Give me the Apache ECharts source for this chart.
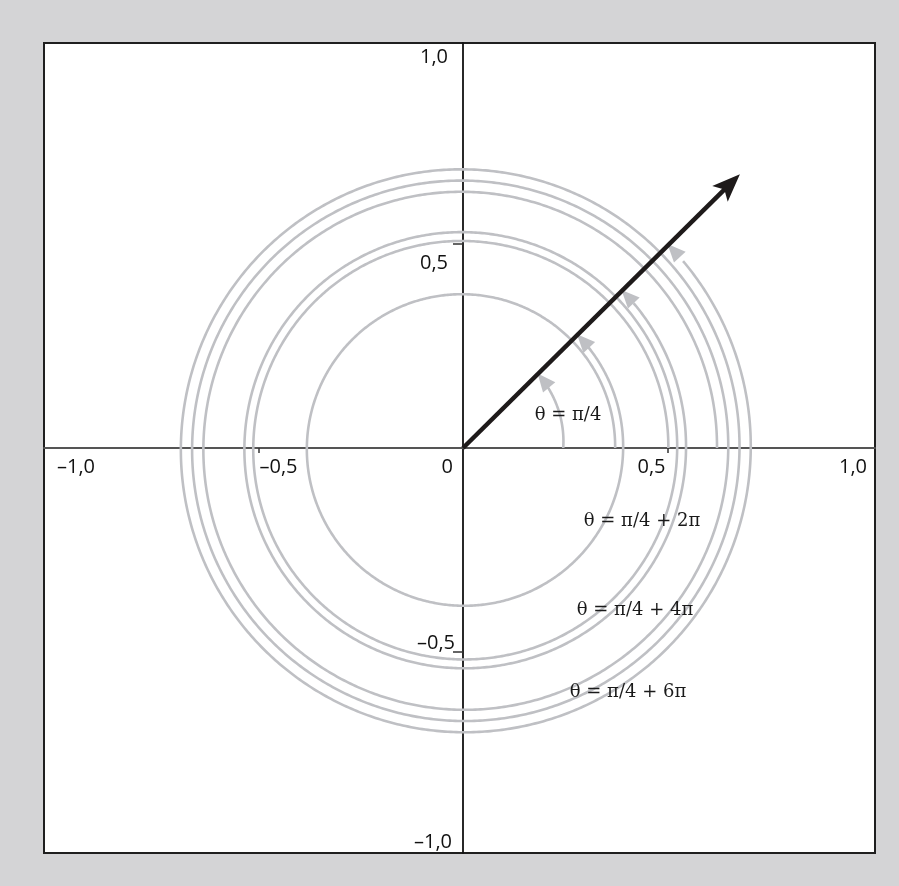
<!DOCTYPE html>
<html>
<head>
<meta charset="utf-8">
<script src="https://cdn.jsdelivr.net/npm/echarts@6/dist/echarts.min.js"></script>
<style>
  html, body { margin: 0; padding: 0; background: #d4d4d6; }
  #chart { width: 899px; height: 886px; }
</style>
</head>
<body>
<div id="chart"></div>
<script>
// tick labels
const xTickValues = [-1, -0.5, 0, 0.5, 1];
const xTickLabels = ['–1,0', '–0,5', '0', '0,5', '1,0'];
const yTickValues = [1, 0.5, -0.5, -1];
const yTickLabels = ['1,0', '0,5', '–0,5', '–1,0'];

// rotation spirals: start radius, end radius, full turns before pi/4
const spiralStartR = [0.245, 0.372, 0.502, 0.621];
const spiralEndR = [0.258, 0.394, 0.548, 0.707];
const spiralTurns = [0, 1, 2, 3];
const spiralNames = ['θ = π/4', 'θ = π/4 + 2π', 'θ = π/4 + 4π', 'θ = π/4 + 6π'];

// the position vector
const vectorEnd = [0.677, 0.671];

const xLabelPlace = [
  { align: 'left', offset: [3, 19] },
  { align: 'left', offset: [1, 19] },
  { align: 'right', offset: [-10, 19] },
  { align: 'right', offset: [-2, 19] },
  { align: 'right', offset: [-5, 19] }
];
const yLabelPlace = [
  { align: 'right', offset: [-15, 17] },
  { align: 'right', offset: [-15, 19] },
  { align: 'right', offset: [-8, -9] },
  { align: 'right', offset: [-11, -14] }
];

function arrowHead(tip, prev, L, W, notch) {
  const dx = tip[0] - prev[0], dy = tip[1] - prev[1];
  const len = Math.hypot(dx, dy) || 1;
  const ux = dx / len, uy = dy / len;
  const bx = tip[0] - ux * L, by = tip[1] - uy * L;
  const pts = [tip, [bx - uy * W, by + ux * W]];
  if (notch) pts.push([tip[0] - ux * L * notch, tip[1] - uy * L * notch]);
  pts.push([bx + uy * W, by - ux * W]);
  return pts;
}

function renderSpiral(params, api) {
  const i = api.value(0);
  const r0 = spiralStartR[i], r1 = spiralEndR[i];
  const end = Math.PI / 4 + 2 * Math.PI * spiralTurns[i];
  const steps = Math.ceil(end / 0.01);
  const pts = [];
  for (let s = 0; s <= steps; s++) {
    const a = end * s / steps;
    const r = r0 + (r1 - r0) * a / end;
    pts.push(api.coord([r * Math.cos(a), r * Math.sin(a)]));
  }
  const tip = pts[pts.length - 1];
  const head = arrowHead(tip, pts[pts.length - 6], 18, 8, 0);
  return {
    type: 'group',
    children: [
      { type: 'polyline', shape: { points: pts.slice(0, pts.length - 8) },
        style: { stroke: '#bfc0c4', lineWidth: 2.6, fill: null } },
      { type: 'polygon', shape: { points: head }, style: { fill: '#bfc0c4' } }
    ]
  };
}

function renderVector(params, api) {
  const p0 = api.coord([0, 0]);
  const p1 = api.coord(vectorEnd);
  const head = arrowHead(p1, p0, 28, 11, 0.78);
  const dx = p1[0] - p0[0], dy = p1[1] - p0[1], len = Math.hypot(dx, dy);
  const stop = [p1[0] - dx / len * 18, p1[1] - dy / len * 18];
  return {
    type: 'group',
    children: [
      { type: 'line', shape: { x1: p0[0], y1: p0[1], x2: stop[0], y2: stop[1] },
        style: { stroke: '#1e1a1a', lineWidth: 4.5 } },
      { type: 'polygon', shape: { points: head }, style: { fill: '#1e1a1a' } }
    ]
  };
}

const tickLabelData = xTickValues.map((v, i) => [v, 0, i, 0])
  .concat(yTickValues.map((v, i) => [0, v, i, 1]));

function renderTickLabel(params, api) {
  const p = api.coord([api.value(0), api.value(1)]);
  const i = api.value(2), isY = api.value(3);
  const place = isY ? yLabelPlace[i] : xLabelPlace[i];
  return {
    type: 'text',
    x: p[0] + place.offset[0], y: p[1] + place.offset[1],
    style: {
      text: isY ? yTickLabels[i] : xTickLabels[i],
      font: '20px "Open Sans"', fill: '#111111',
      align: place.align, verticalAlign: 'middle'
    }
  };
}

const annotPos = [[568, 415], [642, 521], [635, 610], [628, 692]];

const chart = echarts.init(document.getElementById('chart'));
chart.setOption({
  backgroundColor: '#d4d4d6',
  animation: false,
  grid: {
    left: 44, top: 43, width: 831, height: 810,
    show: true, backgroundColor: '#ffffff',
    borderColor: '#1f1f1f', borderWidth: 2
  },
  xAxis: {
    type: 'value', min: -1.0244, max: 1.0073,
    axisLine: { onZero: true, lineStyle: { color: '#555555', width: 2 } },
    axisTick: { show: true, customValues: [-0.5, 0.5], length: 5, lineStyle: { color: '#333', width: 1.5 } },
    axisLabel: { show: false },
    splitLine: { show: false }
  },
  yAxis: {
    type: 'value', min: -0.9926, max: 0.9926,
    axisLine: { onZero: true, lineStyle: { color: '#111111', width: 1.8 } },
    axisTick: { show: true, customValues: [-0.5, 0.5], length: 10, lineStyle: { color: '#333', width: 1.5 } },
    axisLabel: { show: false },
    splitLine: { show: false }
  },
  graphic: spiralNames.map((t, i) => ({
    type: 'text', x: annotPos[i][0], y: annotPos[i][1], z: 100,
    style: { text: t, font: '18px "DejaVu Serif"', fill: '#1a1a1a', align: 'center', verticalAlign: 'middle' }
  })),
  series: [
    {
      type: 'custom', renderItem: renderSpiral,
      data: spiralStartR.map((r, i) => [i]), silent: true, z: 2
    },
    {
      type: 'custom', renderItem: renderVector,
      data: [[0]], silent: true, z: 3
    },
    {
      type: 'custom', renderItem: renderTickLabel, clip: false,
      data: tickLabelData, silent: true, z: 4
    }
  ]
});
</script>
</body>
</html>
